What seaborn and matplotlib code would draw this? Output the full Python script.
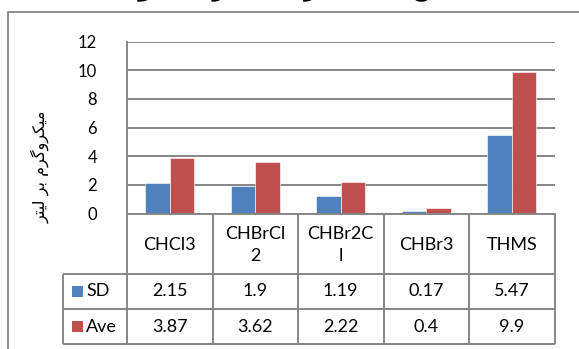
import numpy as np
import pandas as pd
import seaborn as sns
import matplotlib.pyplot as plt
from matplotlib.lines import Line2D
from matplotlib.patches import Rectangle
from matplotlib.transforms import blended_transform_factory

# ---------------- data ----------------
categories = ["CHCl3", "CHBrCl2", "CHBr2Cl", "CHBr3", "THMS"]
header_labels = ["CHCl3", "CHBrCl\n2", "CHBr2C\nl", "CHBr3", "THMS"]
series = ["SD", "Ave"]
sd_values = [2.15, 1.9, 1.19, 0.17, 5.47]
ave_values = [3.87, 3.62, 2.22, 0.4, 9.9]
yticks = [0, 2, 4, 6, 8, 10, 12]
y_label = "میکروگرم بر لیتر"
title_text = "نتایج غلظت ترکیبات تری هالومتان"

colors = ["#4F81BD", "#C0504D"]
grid_gray = "#868686"

# ------------- minimal Persian shaping (matplotlib has no RTL shaping) -------------
FORMS = {
    "ا": ("\uFE8D", "\uFE8E", None, None), "آ": ("\uFE81", "\uFE82", None, None),
    "ب": ("\uFE8F", "\uFE90", "\uFE91", "\uFE92"), "پ": ("\uFB56", "\uFB57", "\uFB58", "\uFB59"),
    "ت": ("\uFE95", "\uFE96", "\uFE97", "\uFE98"), "ج": ("\uFE9D", "\uFE9E", "\uFE9F", "\uFEA0"),
    "ح": ("\uFEA1", "\uFEA2", "\uFEA3", "\uFEA4"), "خ": ("\uFEA5", "\uFEA6", "\uFEA7", "\uFEA8"),
    "د": ("\uFEA9", "\uFEAA", None, None), "ر": ("\uFEAD", "\uFEAE", None, None),
    "ز": ("\uFEAF", "\uFEB0", None, None), "س": ("\uFEB1", "\uFEB2", "\uFEB3", "\uFEB4"),
    "ش": ("\uFEB5", "\uFEB6", "\uFEB7", "\uFEB8"), "ط": ("\uFEC1", "\uFEC2", "\uFEC3", "\uFEC4"),
    "ظ": ("\uFEC5", "\uFEC6", "\uFEC7", "\uFEC8"), "ع": ("\uFEC9", "\uFECA", "\uFECB", "\uFECC"),
    "غ": ("\uFECD", "\uFECE", "\uFECF", "\uFED0"), "ف": ("\uFED1", "\uFED2", "\uFED3", "\uFED4"),
    "ق": ("\uFED5", "\uFED6", "\uFED7", "\uFED8"), "ک": ("\uFB8E", "\uFB8F", "\uFB90", "\uFB91"),
    "گ": ("\uFB92", "\uFB93", "\uFB94", "\uFB95"), "ل": ("\uFEDD", "\uFEDE", "\uFEDF", "\uFEE0"),
    "م": ("\uFEE1", "\uFEE2", "\uFEE3", "\uFEE4"), "ن": ("\uFEE5", "\uFEE6", "\uFEE7", "\uFEE8"),
    "و": ("\uFEED", "\uFEEE", None, None), "ه": ("\uFEE9", "\uFEEA", "\uFEEB", "\uFEEC"),
    "ی": ("\uFBFC", "\uFBFD", "\uFBFE", "\uFBFF"),
}


def shape(text):
    out = []
    n = len(text)
    for i, ch in enumerate(text):
        if ch not in FORMS:
            out.append(ch)
            continue
        iso, fin, ini, med = FORMS[ch]
        prev = text[i - 1] if i > 0 else None
        nxt = text[i + 1] if i < n - 1 else None
        jp = prev in FORMS and FORMS[prev][2] is not None
        jn = ini is not None and nxt in FORMS
        if jp and jn:
            out.append(med)
        elif jp:
            out.append(fin)
        elif jn:
            out.append(ini)
        else:
            out.append(iso)
    return "".join(reversed(out))


# ---------------- figure ----------------
sns.set_style("white")
plt.rcParams["font.family"] = ["Lato", "DejaVu Sans"]

W, H = 579, 349
fig = plt.figure(figsize=(W / 100, H / 100), dpi=100)
fig.patch.set_facecolor("white")

ax_left, ax_right, ax_top, ax_bottom = 127, 554.5, 41.5, 213.5
ax = fig.add_axes([ax_left / W, 1 - ax_bottom / H, (ax_right - ax_left) / W, (ax_bottom - ax_top) / H])

df = pd.DataFrame({
    "category": categories * 2,
    "series": [series[0]] * len(categories) + [series[1]] * len(categories),
    "value": sd_values + ave_values,
})

sns.barplot(data=df, x="category", y="value", hue="series", order=categories,
            hue_order=series, palette=colors, width=0.57, errorbar=None,
            edgecolor=(1, 1, 1, 0.6), linewidth=0.7, saturation=1, legend=False, ax=ax)

ax.set_xlim(-0.5, len(categories) - 0.5)
ax.set_ylim(0, 12)
ax.set_yticks(yticks)
ax.set_yticklabels([str(t) for t in yticks], fontsize=12, color="black")
ax.tick_params(axis="y", length=0, pad=21.5)
ax.set_xticks([])
ax.set_xlabel("")
ax.set_ylabel("")
ax.yaxis.grid(True, color=grid_gray, linewidth=1.4)
ax.set_axisbelow(True)
for s in ["top", "right"]:
    ax.spines[s].set_visible(False)
for s in ["left", "bottom"]:
    ax.spines[s].set_color(grid_gray)
    ax.spines[s].set_linewidth(1.4)

# ---------------- data table ----------------
def fy(y):
    return 1 - y / H


def fx(x):
    return x / W


tr = blended_transform_factory(ax.transData, fig.transFigure)
row_lines = [274, 309, 344]
label_left = 63.3
x_right_fig = fig.transFigure.inverted().transform(ax.transData.transform((len(categories) - 0.5, 0)))[0]

lkw = dict(color=grid_gray, linewidth=1.4, solid_capstyle="butt")
# vertical column boundaries
for b in np.arange(-0.5, len(categories), 1.0):
    fig.add_artist(Line2D([b, b], [fy(ax_bottom), fy(row_lines[-1])], transform=tr, **lkw))
# left edge of legend column
fig.add_artist(Line2D([fx(label_left), fx(label_left)], [fy(row_lines[0]), fy(row_lines[-1])],
                      transform=fig.transFigure, **lkw))
# horizontal rows
for y in row_lines:
    fig.add_artist(Line2D([fx(label_left), x_right_fig], [fy(y), fy(y)], transform=fig.transFigure, **lkw))

# header text
for i, lab in enumerate(header_labels):
    fig.text(i, fy(245), lab, transform=tr, ha="center", va="center", fontsize=13,
             linespacing=1.45, color="black")

# value rows
row_centers = [291.5, 326.5]
for vals, yc in zip([sd_values, ave_values], row_centers):
    for i, v in enumerate(vals):
        fig.text(i, fy(yc), str(v), transform=tr, ha="center", va="center", fontsize=13, color="black")

# legend keys
for name, col, yc in zip(series, colors, row_centers):
    fig.add_artist(Rectangle((fx(71.7), fy(yc + 5.5)), 11 / W, 11 / H, transform=fig.transFigure,
                             facecolor=col, edgecolor="none"))
    fig.text(fx(86), fy(yc), name, ha="left", va="center", fontsize=13, color="black")

# chart border
fig.add_artist(Line2D([fx(8), fx(8), fx(W + 5)], [fy(H + 5), fy(12), fy(12)],
                      transform=fig.transFigure, color=grid_gray, linewidth=1.3))

# y-axis label (Persian)
fig.text(fx(40), fy(167), shape(y_label), rotation=90, ha="center", va="center",
         fontsize=11.5, family=["DejaVu Sans"], color="black")

# title (cut off by the top edge, as in the reference)
fig.text(fx(275), fy(-5), shape(title_text), ha="center", va="baseline", fontsize=16,
         fontweight="bold", family=["DejaVu Sans"], color="black")

fig.savefig("out.png", dpi=100, facecolor="white")
